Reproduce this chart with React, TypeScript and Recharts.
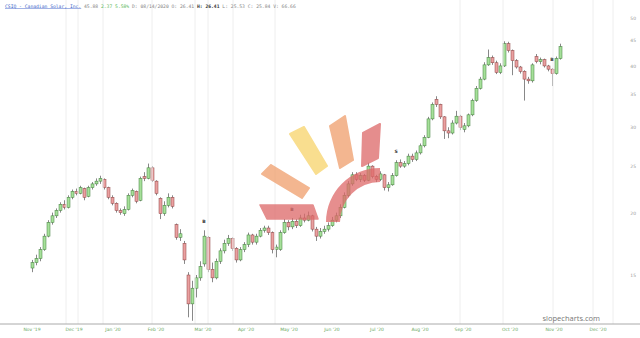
import React from 'react';
import { ComposedChart, Bar, Scatter, XAxis, YAxis, ReferenceLine } from 'recharts';

// one candle every ~2 sessions, Nov '19 -> Nov '20
const opens = [
  15.5, 15.9, 16.2, 16.9, 18.0, 19.2, 19.8, 20.3, 20.9, 20.6,
  21.6, 22.2, 22.0, 22.5, 21.7, 22.6, 23.0, 23.3, 23.5, 22.6,
  21.6, 21.0, 20.3, 20.0, 20.4, 21.8, 22.2, 21.3, 23.8, 23.6,
  24.8, 23.3, 21.5, 20.0, 20.8, 21.6, 19.0, 17.9, 17.4, 15.0,
  13.1, 14.1, 14.8, 15.8, 17.9, 15.4, 14.8, 16.0, 16.8, 17.4,
  17.8, 17.0, 16.1, 16.9, 17.3, 18.1, 17.5, 18.0, 18.5, 18.7,
  18.3, 16.9, 16.9, 18.3, 19.2, 18.8, 19.3, 18.9, 19.6, 19.4,
  19.8, 18.6, 18.0, 18.4, 18.6, 18.9, 19.4, 19.8, 20.6, 21.8,
  23.0, 24.0, 23.5, 23.9, 23.4, 25.0, 23.8, 23.5, 24.0, 22.6,
  22.9, 23.9, 25.4, 25.0, 25.3, 26.2, 25.8, 26.6, 27.5, 28.6,
  31.2, 34.2, 33.4, 31.5, 29.5, 29.2, 30.6, 31.6, 29.7, 30.2,
  31.8, 34.0, 36.0, 37.6, 40.2, 41.6, 40.6, 38.8, 40.0, 44.4,
  43.0, 41.0, 39.8, 39.0, 37.6, 37.3, 41.8, 40.8, 41.2, 40.0,
  39.4, 38.6, 41.4,
];
const closes = [
  15.9, 16.2, 16.9, 18.0, 19.2, 19.8, 20.3, 20.9, 20.6, 21.6,
  22.2, 22.0, 22.6, 21.6, 22.6, 23.0, 23.3, 23.6, 22.6, 21.6,
  21.0, 20.3, 20.1, 20.4, 21.8, 22.3, 21.2, 23.6, 23.6, 24.8,
  23.4, 22.0, 20.0, 20.8, 21.6, 20.7, 17.9, 18.2, 16.1, 13.1,
  14.1, 14.8, 15.6, 18.0, 15.4, 14.8, 16.0, 16.8, 17.4, 17.8,
  17.0, 16.1, 16.9, 17.3, 18.1, 17.5, 18.0, 18.5, 18.7, 18.3,
  16.9, 17.1, 18.3, 19.2, 18.8, 19.3, 18.9, 19.6, 19.4, 19.8,
  18.6, 18.0, 18.4, 18.6, 18.9, 19.4, 19.8, 20.6, 21.8, 23.0,
  24.0, 23.5, 23.9, 23.4, 25.0, 23.8, 23.5, 24.1, 22.6, 22.9,
  23.9, 25.4, 25.0, 25.3, 26.2, 25.8, 26.6, 27.5, 28.6, 31.2,
  33.4, 33.4, 31.5, 29.5, 29.2, 30.6, 31.6, 30.0, 30.2, 31.8,
  34.0, 36.0, 37.6, 40.2, 41.6, 40.6, 38.8, 40.0, 44.4, 43.0,
  41.0, 39.8, 39.0, 37.6, 37.3, 40.2, 40.8, 41.2, 40.0, 39.4,
  38.6, 41.4, 43.8,
];
const highs = [
  16.1, 16.5, 17.1, 18.2, 19.4, 20.1, 20.5, 21.1, 21.3, 21.8,
  22.4, 22.5, 22.8, 22.6, 22.8, 23.2, 23.6, 23.9, 23.6, 22.7,
  21.8, 21.1, 20.5, 20.7, 22.0, 22.5, 22.3, 23.8, 24.3, 25.3,
  25.0, 23.4, 21.6, 21.2, 22.0, 21.8, 19.1, 18.6, 17.6, 15.2,
  14.6, 15.0, 16.0, 18.5, 18.0, 15.9, 16.2, 17.0, 17.7, 18.1,
  17.9, 17.1, 17.1, 17.5, 18.3, 18.2, 18.2, 18.7, 18.9, 18.9,
  18.4, 17.3, 18.5, 19.5, 19.4, 19.6, 19.5, 19.9, 20.0, 20.2,
  19.9, 18.8, 18.7, 18.9, 19.2, 19.7, 20.1, 20.9, 22.1, 23.3,
  24.3, 24.3, 24.2, 24.1, 25.4, 25.1, 24.0, 24.4, 24.1, 23.2,
  24.2, 25.7, 25.8, 25.6, 26.5, 26.5, 26.9, 27.8, 28.9, 31.5,
  33.7, 34.7, 33.5, 31.6, 30.0, 31.0, 32.4, 31.8, 30.6, 32.0,
  34.3, 36.4, 38.0, 40.7, 43.2, 42.0, 41.0, 40.5, 44.9, 44.8,
  43.2, 41.3, 40.0, 39.2, 38.0, 40.5, 42.3, 41.6, 41.4, 40.2,
  39.6, 41.8, 44.4,
];
const lows = [
  15.2, 15.7, 16.0, 16.8, 17.9, 19.0, 19.6, 20.1, 20.4, 20.5,
  21.4, 21.8, 21.9, 21.3, 21.6, 22.4, 22.8, 23.0, 22.4, 21.4,
  20.8, 20.1, 19.9, 19.8, 20.3, 21.6, 21.0, 21.2, 23.3, 23.5,
  23.2, 21.8, 19.5, 19.8, 20.6, 20.5, 17.7, 17.6, 15.8, 12.3,
  12.1, 13.5, 14.6, 15.6, 15.2, 14.5, 14.7, 15.8, 16.6, 17.2,
  16.8, 15.9, 16.0, 16.7, 17.1, 17.3, 17.3, 17.9, 18.3, 18.1,
  16.6, 16.3, 16.8, 18.2, 18.5, 18.6, 18.7, 18.8, 19.2, 19.3,
  18.4, 17.6, 17.8, 18.2, 18.4, 18.8, 19.2, 19.6, 20.5, 21.6,
  22.8, 23.3, 23.2, 23.2, 23.3, 23.6, 23.2, 23.3, 22.3, 22.2,
  22.8, 23.8, 24.8, 24.8, 25.1, 25.5, 25.6, 26.4, 27.3, 28.5,
  31.0, 33.0, 31.2, 28.4, 28.5, 29.0, 30.4, 29.6, 29.3, 30.0,
  31.6, 33.8, 35.8, 37.4, 40.0, 40.2, 38.5, 38.5, 39.8, 42.6,
  38.3, 39.5, 38.6, 34.0, 36.8, 37.0, 40.5, 40.3, 39.7, 39.0,
  36.4, 38.4, 41.2,
];

const monthTicks = [0, 10.5, 20.25, 31, 42.75, 53.5, 64.25, 75, 86.25, 97, 107.75, 119.5, 130.5, 141.5];
const monthLabels = ["Nov '19", "Dec '19", "Jan '20", "Feb '20", "Mar '20", "Apr '20", "May '20", "Jun '20", "Jul '20", "Aug '20", "Sep '20", "Oct '20", "Nov '20", "Dec '20"];
const priceTicks = [15, 20, 25, 30, 35, 40, 45, 50];
const gridAt = [8.5, 11.5, 17.75, 30, 40.75, 44, 50.25, 60.75, 107, 117.75, 130.25, 140.25, 145.25];
const signalIdx = [43, 65, 91, 130];
const signalText = ['B', 'B', 'S', 'B'];

const data = opens.map((o, i) => ({ i, o, c: closes[i], h: highs[i], l: lows[i], range: [lows[i], highs[i]] }));
const signals = signalIdx.map((k, j) => ({ i: k, h: highs[k], t: signalText[j] }));

const Candle = (props: any) => {
  const { x, y, width, height, payload } = props;
  const top = Math.min(y, y + height);
  const hgt = Math.abs(height);
  const lh = Math.log(payload.h);
  const ll = Math.log(payload.l);
  const py = (v: number) => top + ((lh - Math.log(v)) / (lh - ll || 1)) * hgt;
  const up = payload.c >= payload.o;
  const bTop = py(Math.max(payload.o, payload.c));
  const bBot = py(Math.min(payload.o, payload.c));
  const cx = x + width / 2;
  return (
    <g>
      <line x1={cx} x2={cx} y1={top} y2={top + hgt} stroke="#555" strokeWidth={0.7} />
      <rect x={x} y={bTop} width={width} height={Math.max(bBot - bTop, 0.8)}
        fill={up ? '#a6e09a' : '#eaa0a0'} stroke={up ? '#3f7d38' : '#8c4040'} strokeWidth={0.5} />
    </g>
  );
};

const Signal = (props: any) => {
  const { cx, cy, payload } = props;
  return (
    <text x={cx} y={cy - 7} textAnchor="middle" fontSize={4.5} fontWeight="bold" fill="#333" fontFamily="DejaVu Sans">
      {payload.t}
    </text>
  );
};

export default function App() {
  return (
    <div style={{ position: 'absolute', left: 0, top: 0, width: 640, height: 338, background: '#fff' }}>
      <ComposedChart width={640} height={338} data={data} margin={{ top: 0, right: 0, bottom: 0, left: 0 }}>
        {gridAt.map(g => (
          <ReferenceLine key={g} x={g} stroke="#eeeeee" strokeWidth={1} />
        ))}
        <XAxis dataKey="i" type="number" domain={[-8, 152]} ticks={monthTicks} interval={0}
          tickFormatter={(v: number) => monthLabels[monthTicks.indexOf(v)] || ''}
          height={14} tickSize={0} tickMargin={4} axisLine={{ stroke: '#aaa' }}
          tick={{ fontSize: 4.5, fill: '#6aa85f', fontFamily: 'DejaVu Sans' }} allowDataOverflow />
        <YAxis orientation="right" mirror scale="log" domain={[11.92, 54.5]} ticks={priceTicks} interval={0}
          allowDataOverflow axisLine={false} tickSize={0} tickMargin={4}
          tick={{ fontSize: 4.5, fill: '#999', fontFamily: 'DejaVu Sans' }} />
        <Bar dataKey="range" barSize={3} shape={Candle} isAnimationActive={false} />
        <Scatter data={signals} dataKey="h" shape={Signal} isAnimationActive={false} />
      </ComposedChart>
      <svg width={640} height={338} style={{ position: 'absolute', left: 0, top: 0, pointerEvents: 'none' }}>
        <g strokeLinejoin="round" strokeWidth={2}>
          <polygon opacity={0.75} points="290,134 304,127 327,166 316,174" fill="#f7d36a" stroke="#f7d36a" />
          <polygon opacity={0.75} points="330,126 345,116 353,160 340,168" fill="#ef9e6c" stroke="#ef9e6c" />
          <polygon opacity={0.75} points="363,133 380,124 378,158 362,166" fill="#dd6868" stroke="#dd6868" />
          <polygon opacity={0.75} points="262,174 271,165 309,188 302,198" fill="#ef9e6c" stroke="#ef9e6c" />
          <polygon opacity={0.75} points="260,205 313,205 318,219 267,219" fill="#dd6868" stroke="#dd6868" strokeWidth={1.5} />
          <path opacity={0.75} d="M 326 222 A 54 54 0 0 1 380 168 L 380 182 A 40 40 0 0 0 340 222 Z" fill="#dd6868" stroke="none" />
        </g>
        <text x={5} y={7.5} fontFamily="DejaVu Sans Mono" fontSize={4.7} fill="#888">
          <tspan fill="#3b5fc9" textDecoration="underline">CSIQ - Canadian Solar, Inc.</tspan>
          <tspan> 45.88 </tspan>
          <tspan fill="#5cb85c">2.37 5.58%</tspan>
          <tspan> D: 08/14/2020 O: 26.41 </tspan>
          <tspan fill="#333" fontWeight="bold">H: 26.41</tspan>
          <tspan> L: 25.53 C: 25.84 V: 66.66</tspan>
        </text>
        <text x={600} y={321} textAnchor="end" fontFamily="Open Sans" fontSize={7.5} fill="#777">slopecharts.com</text>
      </svg>
    </div>
  );
}
